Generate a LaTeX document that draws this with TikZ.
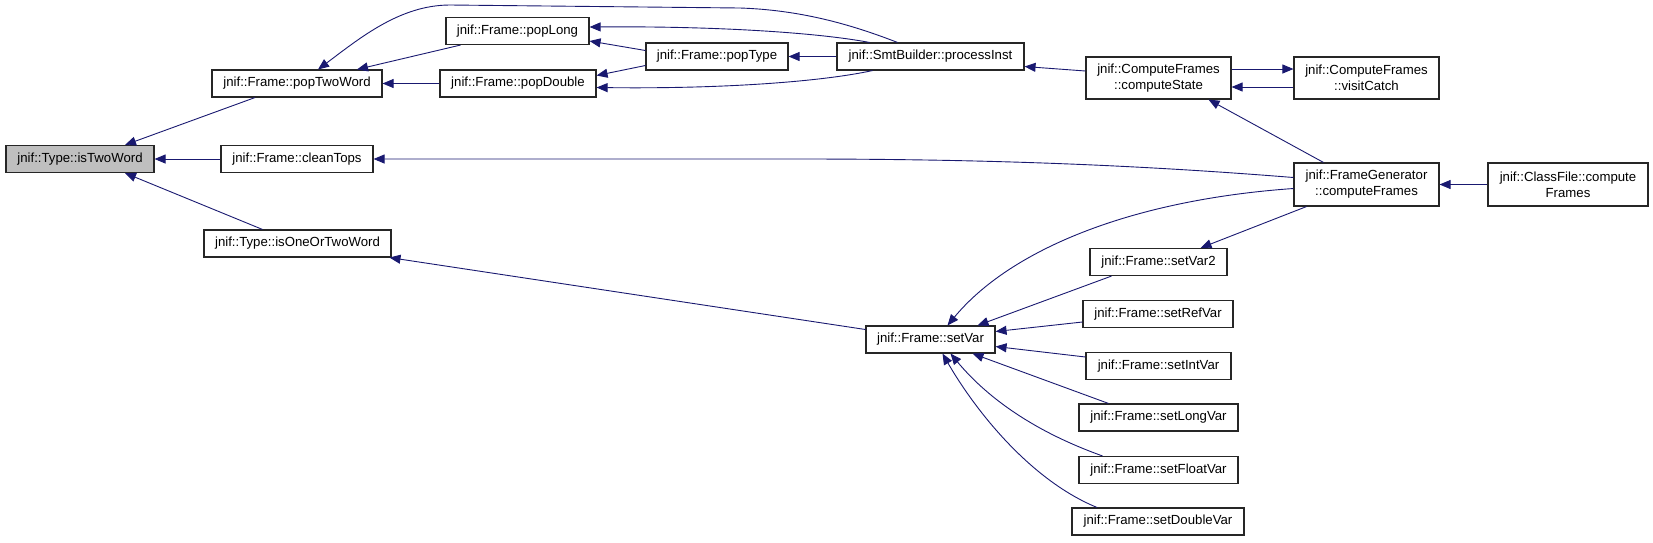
\documentclass[tikz,border=0pt]{standalone}
\usepackage{fontspec}
\setmainfont{Liberation Sans}
\usetikzlibrary{arrows.meta}

\definecolor{edgeblue}{RGB}{25,25,112}
\definecolor{rootgray}{RGB}{191,191,191}

\begin{document}
\begin{tikzpicture}[
  x=1pt, y=-1pt,
  func/.style={
    draw=black!85,
    line width=1.1pt,
    fill=white,
    align=center,
    inner sep=2pt,
    font=\fontsize{13.2}{16}\selectfont,
    minimum height=27pt
  },
  root/.style={func, fill=rootgray},
  arrow/.style={-{Triangle[length=11pt,width=9pt]}, draw=edgeblue, line width=0.9pt}
]

\useasboundingbox (0,0) rectangle (1653,542);

% Root function
\node[root, minimum width=148pt] (istwo) at (80,159) {jnif::Type::isTwoWord};

% Direct callers
\node[func, minimum width=170pt] (poptwo) at (297,83.5) {jnif::Frame::popTwoWord};
\node[func, minimum width=152pt] (clean) at (297,159) {jnif::Frame::cleanTops};
\node[func, minimum width=187pt] (oneortwo) at (297.5,243.5) {jnif::Type::isOneOrTwoWord};

% Pop functions
\node[func, minimum width=143pt] (poplong) at (517.5,31) {jnif::Frame::popLong};
\node[func, minimum width=156pt] (popdouble) at (518,83.5) {jnif::Frame::popDouble};
\node[func, minimum width=142pt] (poptype) at (717,56.5) {jnif::Frame::popType};
\node[func, minimum width=187pt] (process) at (930.5,56.5) {jnif::SmtBuilder::processInst};

% Frame computation
\node[func, minimum width=145pt, minimum height=42pt] (state) at (1158.5,78) {jnif::ComputeFrames\\::computeState};
\node[func, minimum width=145pt, minimum height=42pt] (catch) at (1366.5,78) {jnif::ComputeFrames\\::visitCatch};
\node[func, minimum width=145pt, minimum height=43pt] (framegen) at (1366.5,184.5) {jnif::FrameGenerator\\::computeFrames};
\node[func, minimum width=160pt, minimum height=43pt] (classfile) at (1568,184.5) {jnif::ClassFile::compute\\Frames};

% Set functions
\node[func, minimum width=129pt] (setvar) at (930.5,339.5) {jnif::Frame::setVar};
\node[func, minimum width=137pt] (setvartwo) at (1158.5,262) {jnif::Frame::setVar2};
\node[func, minimum width=150pt] (setref) at (1158,314) {jnif::Frame::setRefVar};
\node[func, minimum width=145pt] (setint) at (1158.5,366) {jnif::Frame::setIntVar};
\node[func, minimum width=159pt] (setlong) at (1158.5,417.5) {jnif::Frame::setLongVar};
\node[func, minimum width=159pt] (setfloat) at (1158.5,470) {jnif::Frame::setFloatVar};
\node[func, minimum width=172pt] (setdouble) at (1158,521.5) {jnif::Frame::setDoubleVar};

% Arrows into the root
\draw[arrow] ([xshift=-42pt]poptwo.south) -- ([xshift=45pt]istwo.north);
\draw[arrow] (clean.west) -- (istwo.east);
\draw[arrow] ([xshift=-35pt]oneortwo.north) -- ([xshift=45pt]istwo.south);

% Arrows into popTwoWord
\draw[arrow] ([xshift=-57pt]poplong.south) -- ([xshift=60pt]poptwo.north);
\draw[arrow] (popdouble.west) -- (poptwo.east);
\draw[arrow] ([xshift=-33pt]process.north) .. controls (850,24) and (800,10) .. (740,8)
  -- (450,5) .. controls (400,5) and (360,38) .. ([xshift=21pt]poptwo.north);

% Arrows into popLong and popDouble
\draw[arrow] ([yshift=6pt]poptype.west) -- ([yshift=-10pt]poplong.east);
\draw[arrow] ([xshift=-61pt]process.north) .. controls (820,33) and (720,26) .. ([yshift=4pt]poplong.east);
\draw[arrow] ([yshift=-9pt]poptype.west) -- ([yshift=8pt]popdouble.east);
\draw[arrow] ([xshift=-58pt]process.south) .. controls (820,82) and (720,89) .. ([yshift=-4pt]popdouble.east);
\draw[arrow] (process.west) -- (poptype.east);

% Frame computation arrows
\draw[arrow] ([yshift=7pt]state.west) -- ([yshift=-10pt]process.east);
\draw[arrow] ([yshift=9pt]state.east) -- ([yshift=9pt]catch.west);
\draw[arrow] ([yshift=-9pt]catch.west) -- ([yshift=-9pt]state.east);
\draw[arrow] ([xshift=-43pt]framegen.north) -- ([xshift=50pt]state.south);
\draw[arrow] ([yshift=7pt]framegen.west) .. controls (1150,166) and (1000,159) .. (800,159) -- (clean.east);
\draw[arrow] ([yshift=-4pt]framegen.west) .. controls (1130,200) and (1010,250) .. ([xshift=17pt]setvar.north);
\draw[arrow] ([xshift=-60pt]framegen.south) -- ([xshift=42pt]setvartwo.north);
\draw[arrow] (classfile.west) -- (framegen.east);

% Arrows into setVar
\draw[arrow] ([xshift=-47pt]setvartwo.south) -- ([xshift=47pt]setvar.north);
\draw[arrow] ([yshift=-8pt]setref.west) -- ([yshift=8pt]setvar.east);
\draw[arrow] ([yshift=9pt]setint.west) -- ([yshift=-7pt]setvar.east);
\draw[arrow] ([xshift=-50pt]setlong.north) -- ([xshift=42pt]setvar.south);
\draw[arrow] ([xshift=-56pt]setfloat.north) .. controls (1030,430) and (985,395) .. ([xshift=20pt]setvar.south);
\draw[arrow] ([xshift=-61pt]setdouble.north) .. controls (1030,480) and (975,410) .. ([xshift=12pt]setvar.south);

% setVar into isOneOrTwoWord
\draw[arrow] ([yshift=10pt]setvar.west) -- ([xshift=92pt]oneortwo.south);

\end{tikzpicture}
\end{document}
